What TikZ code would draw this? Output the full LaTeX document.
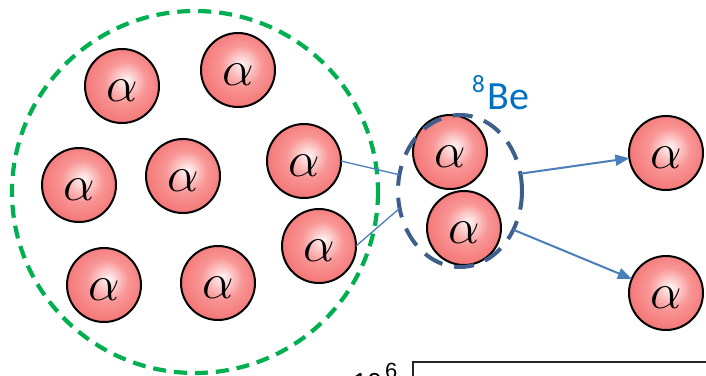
\RequirePackage{fix-cm}
\documentclass[tikz,border=0pt]{standalone}
\usepackage{fontspec}
\setmainfont{Liberation Serif}
\newfontfamily\befont{Carlito}
\newfontfamily\axfont{Liberation Sans}
\usetikzlibrary{arrows.meta,shapes.geometric}
\definecolor{rimred}{RGB}{234,62,62}
\definecolor{midred}{RGB}{249,150,150}
\definecolor{corepink}{RGB}{255,246,246}
\definecolor{dashgreen}{RGB}{0,176,80}
\definecolor{beblue}{RGB}{62,94,140}
\definecolor{linkblue}{RGB}{74,126,187}
\definecolor{labelblue}{RGB}{0,112,192}
\pgfdeclareradialshading{alphashade}{\pgfpoint{3bp}{4bp}}{color(0bp)=(corepink); color(14bp)=(midred); color(50bp)=(rimred)}
\tikzset{
  alphanode/.style={circle, draw=black, line width=2pt, minimum size=74pt, inner sep=0pt, outer sep=0pt,
    shading=alphashade, font=\fontsize{50}{50}\selectfont, text height=31pt, text depth=0pt, execute at begin node=$, execute at end node=$},
  conn/.style={draw=linkblue, line width=1.3pt},
  arrowline/.style={draw=linkblue, line width=2pt, -{Triangle[length=14pt,width=11pt]}},
}
\begin{document}
\begin{tikzpicture}[x=1pt,y=-1pt]
\useasboundingbox (0,0) rectangle (706,375);
\clip (0,0) rectangle (706,375);
\draw[dashgreen, line width=4.2pt, dash pattern=on 13pt off 8pt] (195,192) ellipse [x radius=183, y radius=181];
\node[alphanode] (a1) at (122,86) {\alpha};
\node[alphanode] (a2) at (238,70) {\alpha};
\node[alphanode] (a3) at (79,185) {\alpha};
\node[alphanode] (a4) at (183,176) {\alpha};
\node[alphanode] (a5) at (304,161) {\alpha};
\node[alphanode] (a6) at (319,246) {\alpha};
\node[alphanode] (a7) at (104,285) {\alpha};
\node[alphanode] (a8) at (218,283) {\alpha};
\node[alphanode] (b1) at (450,152) {\alpha};
\node[alphanode] (b2) at (464,228) {\alpha};
\node[alphanode] (r1) at (666,153) {\alpha};
\node[alphanode] (r2) at (666,293) {\alpha};
\node[ellipse, draw=beblue, line width=4pt, dash pattern=on 20pt off 12pt, minimum width=124pt, minimum height=152pt, inner sep=0pt, outer sep=0pt] (be) at (460,191) {};
\draw[conn] (a5.east) -- (be.165);
\draw[conn] (a6.east) -- (be.196);
\draw[arrowline] (be.16) -- (r1);
\draw[arrowline] (be.324) -- (r2);
\node[anchor=base west, inner sep=0pt, text=labelblue, font=\befont] (lbl) at (472,109) {{\fontsize{25}{25}\selectfont\raisebox{17pt}{8}}\kern3pt{\fontsize{40}{40}\selectfont Be}};
\draw[black!85, line width=1.5pt] (413,362) rectangle (720,420);
\node[anchor=north east, inner sep=0pt, font=\axfont\fontsize{26}{26}\selectfont] (ten) at (382,373) {10};
\node[anchor=north west, inner sep=0pt, font=\axfont\fontsize{22}{22}\selectfont] (six) at (385,363) {6};
\end{tikzpicture}
\end{document}
